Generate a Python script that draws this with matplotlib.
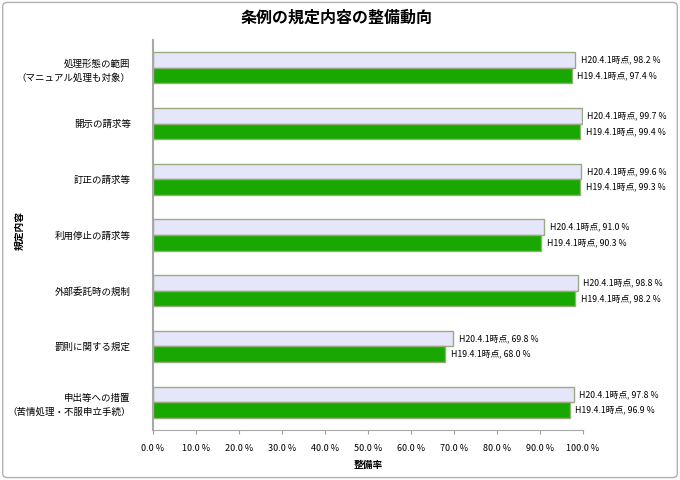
import matplotlib
matplotlib.use("Agg")
import matplotlib.pyplot as plt
import numpy as np
from matplotlib.patches import FancyBboxPatch
from matplotlib.ticker import FuncFormatter

plt.rcParams['font.family'] = ['Noto Sans CJK JP', 'DejaVu Sans']

categories = [
    "処理形態の範囲\n（マニュアル処理も対象）",
    "開示の請求等",
    "訂正の請求等",
    "利用停止の請求等",
    "外部委託時の規制",
    "罰則に関する規定",
    "申出等への措置\n（苦情処理・不服申立手続）",
]
h20 = [98.2, 99.7, 99.6, 91.0, 98.8, 69.8, 97.8]
h19 = [97.4, 99.4, 99.3, 90.3, 98.2, 68.0, 96.9]
series_names = ["H20.4.1時点", "H19.4.1時点"]

fig = plt.figure(figsize=(6.8, 4.8), dpi=100)
# outer frame
fig.patches.append(FancyBboxPatch((0.004, 0.005), 0.992, 0.99, boxstyle="round,pad=0,rounding_size=0.008",
                                  transform=fig.transFigure, fill=False, edgecolor="#b0b0b0", lw=1.0))

ax = fig.add_axes([153 / 680, 1 - 430 / 480, 430 / 680, 390 / 480])

n = len(categories)
y = np.arange(n)
h = 0.28
ax.barh(y - h / 2, h20, height=h, color="#e6e6fa", edgecolor="#9aaa80", lw=1.0)
ax.barh(y + h / 2, h19, height=h, color="#18a800", edgecolor="#9aaa80", lw=1.0)

for i in range(n):
    ax.text(h20[i] + 1.3, y[i] - h / 2, f"{series_names[0]}, {h20[i]:.1f} %", va="center", ha="left", fontsize=6.3)
    ax.text(h19[i] + 1.3, y[i] + h / 2, f"{series_names[1]}, {h19[i]:.1f} %", va="center", ha="left", fontsize=6.3)

ax.set_xlim(0, 100)
ax.set_ylim(n - 0.5, -0.5)
ax.set_xticks(np.arange(0, 101, 10))
ax.xaxis.set_major_formatter(FuncFormatter(lambda v, p: f"{v:.1f} %"))
ax.set_yticks(y)
ax.set_yticklabels(categories, fontsize=6.8, linespacing=1.6)
ax.tick_params(axis="y", length=0, pad=16)
ax.tick_params(axis="x", length=3, color="#a0a0a0", labelsize=6.5, pad=7)
for s in ["top", "right"]:
    ax.spines[s].set_visible(False)
ax.spines["left"].set_color("#a8a8a8")
ax.spines["left"].set_linewidth(1.5)
ax.spines["bottom"].set_color("#a8a8a8")

ax.set_xlabel("整備率", fontsize=7, fontweight="bold", labelpad=5)
fig.text(20 / 680, 1 - 230 / 480, "規定内容", rotation=90, fontsize=7, fontweight="bold", ha="center", va="center")
fig.text(337 / 680, 1 - 18 / 480, "条例の規定内容の整備動向", fontsize=11.5, fontweight="bold", ha="center", va="center")

fig.savefig("out.png", dpi=100)
